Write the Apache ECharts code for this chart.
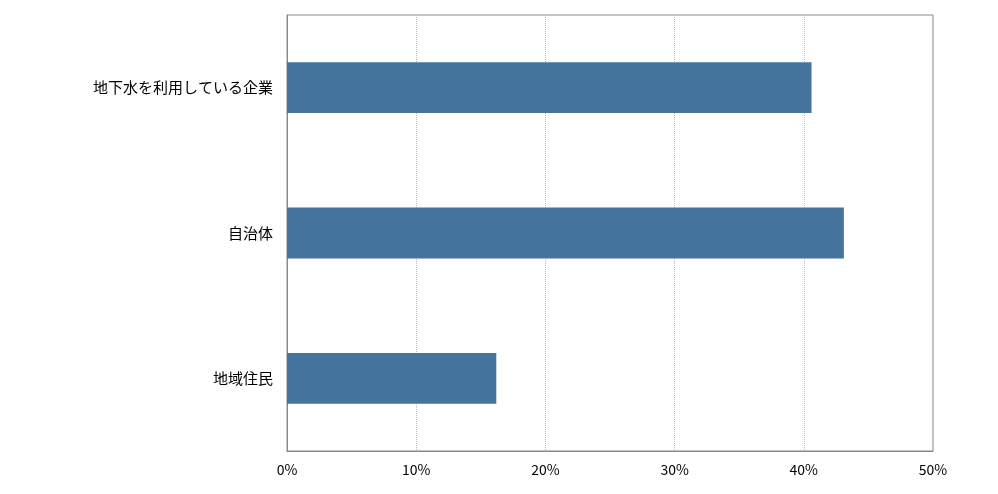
<!DOCTYPE html>
<html><head><meta charset="utf-8">
<script src="https://cdn.jsdelivr.net/npm/echarts@6/dist/echarts.min.js"></script>
<style>html,body{margin:0;padding:0;background:#fff}#c{width:998px;height:494px}</style>
</head><body><div id="c"></div>
<script>
const categories = ['地域住民', '自治体', '地下水を利用している企業'];
const values = [16.2, 43.1, 40.6];
const chart = echarts.init(document.getElementById('c'));
chart.setOption({
  animation: false,
  grid: { left: 287, right: 65, top: 15, bottom: 43, show: true, borderColor: '#898989', borderWidth: 1 },
  xAxis: {
    type: 'value', min: 0, max: 50, interval: 10,
    axisLabel: { formatter: '{value}%', color: '#000', fontSize: 14, fontFamily: 'Noto Sans CJK JP', margin: 12 },
    axisLine: { show: true, lineStyle: { color: '#898989' } },
    axisTick: { show: false },
    splitLine: { show: true, lineStyle: { color: '#bfbfbf', type: 'dotted' } }
  },
  yAxis: {
    type: 'category', data: categories,
    axisLabel: { color: '#000', fontSize: 15, fontFamily: 'Noto Sans CJK JP', margin: 14 },
    axisLine: { show: true, lineStyle: { color: '#898989' } },
    axisTick: { show: false }
  },
  series: [{ type: 'bar', data: values, barWidth: '35%', itemStyle: { color: '#44749d' } }]
});
</script></body></html>
